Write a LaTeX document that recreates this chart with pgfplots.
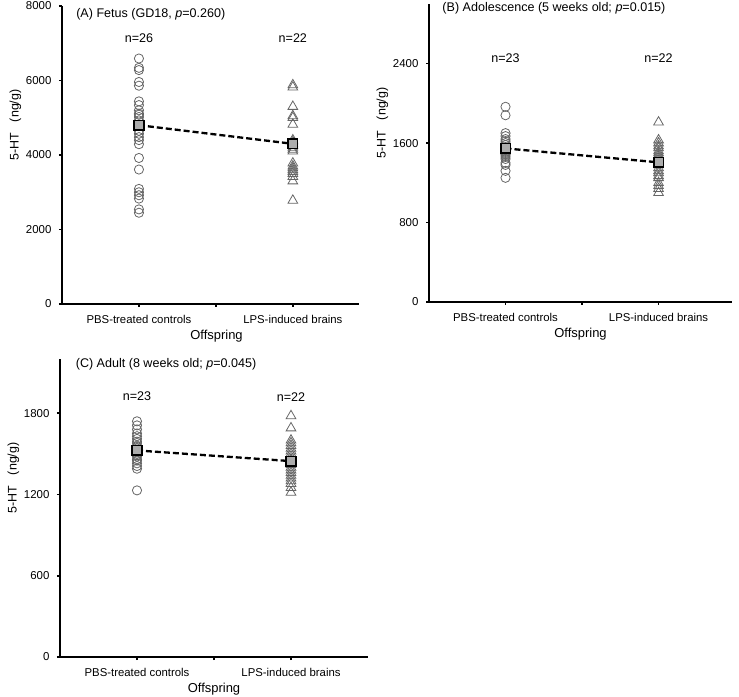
\documentclass[border=0pt]{standalone}
\usepackage{fontspec}
\setmainfont{Liberation Sans}
\usepackage{pgfplots}
\pgfplotsset{compat=1.18}
\pgfplotsset{
  panel/.style={
    scale only axis,
    axis x line*=bottom,
    axis y line*=left,
    axis line style={line width=2bp},
    xmin=0.5,
    ymin=0,
    xtick={1,1.5,2},
    xticklabels={PBS-treated controls,,LPS-induced brains},
    tick style={black, line width=1.8bp},
    major tick length=3bp,
    tick align=outside,
    xlabel={Offspring},
    ylabel={5-HT\hspace{0.9em}(ng/g)},
    ylabel style={at={(ticklabel cs:0.6)}, font=\fontsize{12.5}{14}\selectfont, yshift=-2bp},
    xlabel style={font=\fontsize{13}{14}\selectfont, yshift=1bp},
    /pgf/number format/1000 sep={},
    /pgf/number format/assume math mode=true,
    scaled y ticks=false,
    clip=false,
    yticklabel style={font=\fontsize{11.5}{13}\selectfont, xshift=-4bp},
    xticklabel style={font=\fontsize{11.4}{13}\selectfont, yshift=-5bp},
  },
  ctrl/.style={only marks, mark=o, mark size=4.6bp, color=black!60, mark options={line width=0.8bp}},
  lps/.style={only marks, mark=triangle, mark size=5.6bp, color=black!60, mark options={line width=0.8bp}},
  meanline/.style={black, line width=2.3bp, dash pattern=on 6bp off 3bp},
  meanmark/.style={only marks, mark=square*, mark size=4.8bp, mark options={fill=gray!65, draw=black, line width=1.6bp}},
}
\newcommand{\bigfont}{\fontsize{12.6}{14}\selectfont}
\begin{document}
\begin{tikzpicture}
\path[use as bounding box] (0,0) rectangle (739bp,697bp);

% Panel A
\begin{axis}[panel, at={(62bp,393bp)}, anchor=south west, width=297bp, height=298bp,
  xmax=2.43, ymax=8000, ytick={0,2000,4000,6000,8000},
  xlabel style={xshift=6bp}]
\addplot[ctrl] coordinates {
(1,6590) (1,6340) (1,6280) (1,5960) (1,5860) (1,5440) (1,5340) (1,5200) (1,5110)
(1,5080) (1,5020) (1,4930) (1,4650) (1,4570) (1,4480) (1,4400) (1,4290) (1,3920)
(1,3610) (1,3090) (1,3000) (1,2920) (1,2830) (1,2540) (1,2450) (1,4800)};
\addplot[lps] coordinates {
(2,5880) (2,5820) (2,5300) (2,5050) (2,5000) (2,4820) (2,4400) (2,4350) (2,4300)
(2,4250) (2,4200) (2,4150) (2,4100) (2,3780) (2,3700) (2,3650) (2,3600) (2,3550)
(2,3500) (2,3420) (2,3300) (2,2780)};
\addplot[meanline] coordinates {(1,4800) (2,4300)};
\addplot[meanmark] coordinates {(1,4800) (2,4300)};
\node[anchor=west, font=\bigfont] at (axis cs:0.57,7785) {(A) Fetus (GD18, \textit{p}=0.260)};
\node[font=\bigfont] at (axis cs:1,7141) {n=26};
\node[font=\bigfont] at (axis cs:2,7141) {n=22};
\end{axis}

% Panel B
\begin{axis}[panel, at={(429bp,395bp)}, anchor=south west, width=303bp, height=298bp,
  xmax=2.48, ymax=3000, ytick={0,800,1600,2400}]
\addplot[ctrl] coordinates {
(1,1965) (1,1880) (1,1700) (1,1670) (1,1640) (1,1620) (1,1600) (1,1580) (1,1560)
(1,1550) (1,1540) (1,1530) (1,1520) (1,1510) (1,1500) (1,1490) (1,1480) (1,1460)
(1,1440) (1,1400) (1,1380) (1,1320) (1,1250)};
\addplot[lps] coordinates {
(2,1810) (2,1630) (2,1600) (2,1570) (2,1550) (2,1520) (2,1500) (2,1480) (2,1460)
(2,1440) (2,1420) (2,1400) (2,1380) (2,1350) (2,1320) (2,1300) (2,1270) (2,1250)
(2,1200) (2,1170) (2,1140) (2,1100)};
\addplot[meanline] coordinates {(1,1546) (2,1406)};
\addplot[meanmark] coordinates {(1,1546) (2,1406)};
\node[anchor=west, font=\bigfont] at (axis cs:0.565,2958) {(B) Adolescence (5 weeks old; \textit{p}=0.015)};
\node[font=\bigfont] at (axis cs:1,2455) {n=23};
\node[font=\bigfont] at (axis cs:2,2455) {n=22};
\end{axis}

% Panel C
\begin{axis}[panel, at={(60bp,40bp)}, anchor=south west, width=308bp, height=298bp,
  xmax=2.5, ymax=2200, ytick={0,600,1200,1800}]
\addplot[ctrl] coordinates {
(1,1740) (1,1710) (1,1680) (1,1650) (1,1630) (1,1610) (1,1590) (1,1580) (1,1560)
(1,1550) (1,1540) (1,1530) (1,1520) (1,1510) (1,1500) (1,1490) (1,1480) (1,1460)
(1,1450) (1,1430) (1,1410) (1,1390) (1,1230)};
\addplot[lps] coordinates {
(2,1780) (2,1690) (2,1600) (2,1580) (2,1560) (2,1540) (2,1520) (2,1500) (2,1480)
(2,1460) (2,1450) (2,1440) (2,1420) (2,1400) (2,1380) (2,1360) (2,1340) (2,1320)
(2,1300) (2,1280) (2,1250) (2,1215)};
\addplot[meanline] coordinates {(1,1525) (2,1446)};
\addplot[meanmark] coordinates {(1,1525) (2,1446)};
\node[anchor=west, font=\bigfont] at (axis cs:0.58,2162) {(C) Adult (8 weeks old; \textit{p}=0.045)};
\node[font=\bigfont] at (axis cs:1,1922) {n=23};
\node[font=\bigfont] at (axis cs:2,1922) {n=22};
\end{axis}
\end{tikzpicture}
\end{document}
